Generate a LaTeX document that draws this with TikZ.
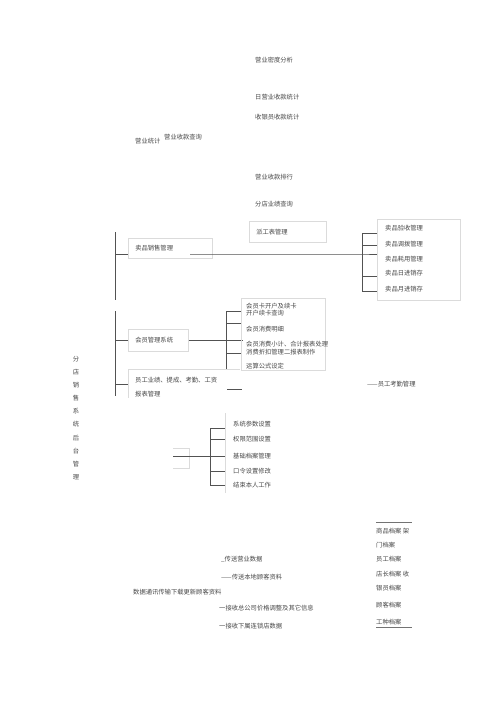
\documentclass[tikz,border=0pt]{standalone}
\usepackage{fontspec}
\newfontfamily\cjk{Noto Sans CJK SC}
\usetikzlibrary{positioning}
\tikzset{
  lbl/.style = {anchor=west, inner sep=0pt, text=black!72,
    font=\cjk\fontsize{6.3}{7}\selectfont},
  boxn/.style = {lbl, anchor=north west, draw=black!14, line width=0.5pt,
    inner xsep=7pt, align=left},% framed entry
  frm/.style = {draw=black!14, line width=0.5pt},% light frame
  brn/.style = {draw=black!68, line width=0.8pt},% branch line
  rul/.style = {draw=black!55, line width=0.8pt}
}
\begin{document}
\begin{tikzpicture}[x=1pt,y=-1pt]
\useasboundingbox (0,0) rectangle (500,707);
% statistics texts
\node [lbl] (density) at (255,60) {营业密度分析};
\node [lbl] (daily) at (255,97) {日营业收款统计};
\node [lbl] (cashier) at (255,117) {收银员收款统计};
\node [lbl] (stat) at (135,141) {营业统计};
\node [lbl] (query) at (164,137) {营业收款查询};
\node [lbl] (rank) at (255,177) {营业收款排行};
\node [lbl] (branch) at (255,204) {分店业绩查询};
% framed entries
\node [boxn, minimum height=21pt, text width=63pt] (dispatch) at (249,221) {派工表管理};
\node [boxn, minimum height=20pt, text width=70pt] (sales) at (128,238) {卖品销售管理};
\node [boxn, minimum height=22pt, text width=46pt] (member) at (128,329) {会员管理系统};
% title
\node [lbl, anchor=center, align=center, font=\cjk\fontsize{6.3}{13.1}\selectfont]
  (title) at (76,418) {分\\店\\销\\售\\系\\统\\后\\台\\管\\理};
% trunk
\coordinate (trunktop) at (115,232);
\coordinate (trunkmid) at (115,300);
\coordinate (trunkre) at (115,311);
\coordinate (trunkend) at (115,396);
\draw [brn] (trunktop) -- (trunkmid) (trunkre) -- (trunkend);
% sales goods
\coordinate (salesrow) at (190,254);
\coordinate (salesbr) at (362,254);
\draw [brn] (trunktop |- salesrow) -- (sales.west |- salesrow);
\draw [brn] (salesrow) -- (salesbr) -- ++(15,0);
\draw [brn] (362,233) -- (362,291);
\foreach \y in {233,245,276,291} \draw [brn] (362,\y) -- ++(15,0);
\draw [frm] (377,219) rectangle (460,300);
\node [lbl] (accept) at (385,228) {卖品验收管理};
\node [lbl] (transfer) at (385,244) {卖品调拨管理};
\node [lbl] (consume) at (385,259) {卖品耗用管理};
\node [lbl] (dayinv) at (385,273) {卖品日进销存};
\node [lbl] (moninv) at (385,289) {卖品月进销存};
% members
\draw [brn] (trunkre |- member.west) -- (member.west);
\draw [brn] (member.east) -- ++(54,0);
\draw [brn] (226,311) -- (226,369);
\foreach \y in {311,323,353} \draw [brn] (226,\y) -- ++(16,0);
\draw [brn] (227,389) -- ++(15,0);
\draw [frm] (241,298) rectangle (325,370);
\node [lbl] (mcard) at (246,306) {会员卡开户及续卡};
\node [lbl] (mquery) at (246,313) {开户续卡查询};
\node [lbl] (mdetail) at (246,329) {会员消费明细};
\node [lbl] (msum) at (246,344) {会员消费小计、合计报表处理};
\node [lbl] (mdisc) at (246,352) {消费折扣管理二报表制作};
\node [lbl] (mformula) at (246,366) {运算公式设定};
% staff
\coordinate (staffrow) at (128,384);
\draw [brn] (trunkre |- staffrow) -- (staffrow);
\draw [frm] (240,369) -- (128,369) -- (128,398);
\node [lbl] (staffa) at (135,380) {员工业绩、提成、考勤、工资};
\node [lbl] (staffb) at (135,394) {报表管理};
\node [lbl] (attend) at (367,384) {——员工考勤管理};
% system
\coordinate (sysrow) at (173,456);
\draw [frm] (173,448) -| (189,468) -- (173,468);
\draw [brn] (sysrow) -- (225,456);
\draw [brn] (210,428) -- (210,485);
\foreach \y in {428,439,471,485} \draw [brn] (210,\y) -- ++(15,0);
\draw [frm] (225,413) -- (225,493);
\node [lbl] (param) at (233,424) {系统参数设置};
\node [lbl] (rights) at (233,439) {权限范围设置};
\node [lbl] (files) at (233,456) {基础档案管理};
\node [lbl] (passwd) at (233,471) {口令设置修改};
\node [lbl] (logout) at (233,485) {结束本人工作};
% archives
\draw [rul] (376,522) -- (412,522);
\draw [rul] (376,627) -- (412,627);
\node [lbl] (goods) at (376,531) {商品档案\ 架};
\node [lbl] (door) at (376,545) {门档案};
\node [lbl] (staff) at (376,559) {员工档案};
\node [lbl] (manager) at (376,574) {店长档案\ 收};
\node [lbl] (cashfile) at (376,588) {银员档案};
\node [lbl] (client) at (376,605) {顾客档案};
\node [lbl] (jobs) at (376,622) {工种档案};
% data transfer
\node [lbl] (sendsale) at (221,559) {\_传送营业数据};
\node [lbl] (sendclient) at (221,577) {——传送本地顾客资料};
\node [lbl] (comm) at (133,592) {数据通讯传输下载更新顾客资料};
\node [lbl] (recvprice) at (219,608) {一接收总公司价格调整及其它信息};
\node [lbl] (recvshop) at (219,626) {一接收下属连锁店数据};
\end{tikzpicture}
\end{document}
